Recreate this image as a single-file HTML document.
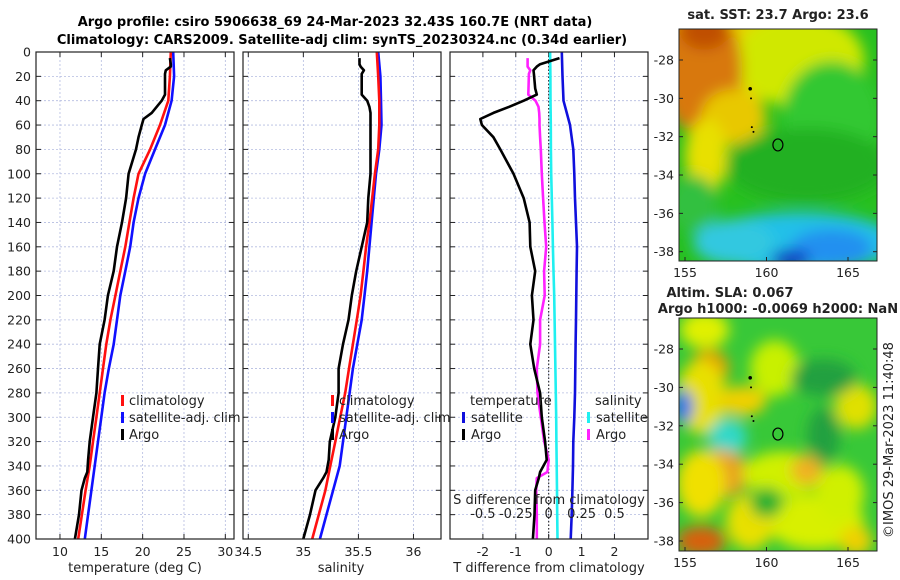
<!DOCTYPE html>
<html><head><meta charset="utf-8"><style>
html,body{margin:0;padding:0;background:#fff;}
svg{display:block;font-family:"DejaVu Sans","Liberation Sans",sans-serif;}
</style></head><body>
<svg id="fig" width="900" height="580" viewBox="0 0 900 580" xmlns="http://www.w3.org/2000/svg">
<defs>
<filter id="blur1" x="-50%" y="-50%" width="200%" height="200%"><feGaussianBlur stdDeviation="9"/></filter>
<filter id="blur2" x="-50%" y="-50%" width="200%" height="200%"><feGaussianBlur stdDeviation="7"/></filter>
<clipPath id="clipTop"><rect x="679" y="29" width="198" height="232"/></clipPath>
<clipPath id="clipBot"><rect x="679" y="318" width="198" height="233"/></clipPath>
</defs>
<text x="335" y="26" text-anchor="middle" font-size="13" font-weight="bold">Argo profile: csiro 5906638_69 24-Mar-2023 32.43S 160.7E (NRT data)</text>
<text x="342" y="44" text-anchor="middle" font-size="13" font-weight="bold">Climatology: CARS2009. Satellite-adj clim: synTS_20230324.nc (0.34d earlier)</text>
<g id="panels"></g>
<g id="maps"></g>
</svg>
<script>
// ---------- data ----------
const depthTicks = [0,20,40,60,80,100,120,140,160,180,200,220,240,260,280,300,320,340,360,380,400];
const tempTicks = [10,15,20,25,30];
const salTicks = [34.5,35,35.5,36];
const tdiffTicks = [-2,-1,0,1,2];
const sdiffTicks = [-0.5,-0.25,0,0.25,0.5];
const sdiffTickLabels = ["-0.5","-0.25","0","0.25","0.5"];

const climDepth = [0,20,40,60,80,100,120,140,160,180,200,220,240,260,280,300,320,340,360,380,400];
const tempClim = [23.4,23.3,23.1,22.1,20.9,19.5,18.9,18.4,17.9,17.3,16.7,16.1,15.6,15.2,14.8,14.4,14.0,13.6,13.1,12.65,12.2];
const tempSat  = [23.7,23.8,23.5,22.7,21.5,20.3,19.5,18.9,18.5,17.9,17.3,16.9,16.5,15.9,15.4,15.0,14.6,14.2,13.8,13.4,13.0];
const salClim  = [35.667,35.68,35.69,35.69,35.68,35.65,35.625,35.60,35.57,35.545,35.52,35.485,35.45,35.415,35.38,35.335,35.29,35.245,35.20,35.14,35.08];
const salSat   = [35.68,35.70,35.705,35.71,35.69,35.66,35.64,35.62,35.60,35.58,35.555,35.53,35.49,35.45,35.42,35.39,35.36,35.33,35.27,35.21,35.15];
const tdiffSat = [0.4,0.42,0.45,0.65,0.75,0.78,0.8,0.83,0.86,0.85,0.84,0.83,0.82,0.81,0.8,0.78,0.75,0.74,0.72,0.7,0.67];
const sdiffSat = [0.011,0.013,0.014,0.016,0.017,0.019,0.024,0.028,0.032,0.037,0.042,0.045,0.048,0.051,0.054,0.057,0.059,0.061,0.063,0.065,0.067];

const argoDepth = [5,10,12,15,18,30,35,40,45,50,55,60,70,80,100,120,140,160,180,200,220,240,260,280,300,320,335,345,350,360,380,400];
const tempArgo = [23.3,23.4,23.4,22.8,22.7,22.7,22.7,22.3,21.7,21.1,20.1,19.9,19.5,19.2,18.3,18.0,17.5,16.9,16.5,15.8,15.4,14.8,14.6,14.4,14.0,13.6,13.4,13.3,13.0,12.6,12.3,11.8];
const salArgo  = [35.51,35.51,35.52,35.55,35.53,35.53,35.53,35.58,35.60,35.61,35.61,35.61,35.61,35.61,35.61,35.59,35.58,35.53,35.48,35.44,35.41,35.36,35.32,35.32,35.29,35.24,35.23,35.21,35.18,35.11,35.06,35.0];
const tdiffArgo = [0.33,-0.26,-0.36,-0.46,-0.45,-0.41,-0.36,-0.76,-1.2,-1.68,-2.08,-2.03,-1.68,-1.47,-1.07,-0.76,-0.58,-0.56,-0.41,-0.51,-0.46,-0.56,-0.44,-0.26,-0.21,-0.11,-0.06,-0.26,-0.3,-0.41,-0.43,-0.48];
const sdiffArgo = [-0.16,-0.16,-0.16,-0.14,-0.15,-0.153,-0.155,-0.10,-0.077,-0.072,-0.07,-0.07,-0.065,-0.06,-0.052,-0.042,-0.032,-0.019,-0.035,-0.03,-0.065,-0.065,-0.09,-0.085,-0.06,-0.034,0,-0.01,-0.09,-0.095,-0.09,-0.09];

const mapXTicks = [155,160,165];
const mapYTicks = [-28,-30,-32,-34,-36,-38];
const argoLon = 160.7, argoLat = -32.43;
const trackLon = [159.0,159.05,159.1,159.2];
const trackLat = [-29.5,-30.0,-31.5,-31.75];

// ---------- helpers ----------
const NS = "http://www.w3.org/2000/svg";
function mk(tag, attrs, parent){const e=document.createElementNS(NS,tag);for(const k in attrs)e.setAttribute(k,attrs[k]);parent.appendChild(e);return e;}
const Y0=52, Y1=539;
function yD(d){return Y0+(Y1-Y0)*d/400;}
const panelsG=document.getElementById('panels');

function drawPanel(name,x0,x1,dmin,dmax,ticks,tickLabels,gridAlso){
  const g=mk('g',{},panelsG);
  
  
  const sx=v=>x0+(x1-x0)*(v-dmin)/(dmax-dmin);
  // grid
  depthTicks.forEach(d=>{if(d>0&&d<400){const l=mk('line',{x1:x0,x2:x1,y1:yD(d),y2:yD(d),stroke:'#b4bce0','stroke-width':0.8,'stroke-dasharray':'2,2'},g);
    }});
  ticks.forEach(t=>{const X=sx(t);if(X>x0+1&&X<x1-1){const l=mk('line',{x1:X,x2:X,y1:Y0,y2:Y1,stroke:'#b4bce0','stroke-width':0.8,'stroke-dasharray':'2,2'},g);
    }});
  // ticks
  depthTicks.forEach(d=>{mk('line',{x1:x0,x2:x0+5,y1:yD(d),y2:yD(d),stroke:'#222','stroke-width':1},g);mk('line',{x1:x1-5,x2:x1,y1:yD(d),y2:yD(d),stroke:'#222','stroke-width':1},g);});
  ticks.forEach((t,i)=>{const X=sx(t);mk('line',{x1:X,x2:X,y1:Y1,y2:Y1-5,stroke:'#222'},g);mk('line',{x1:X,x2:X,y1:Y0,y2:Y0+5,stroke:'#222'},g);
    const tx=mk('text',{x:X,y:556,'text-anchor':'middle','font-size':12.5,fill:'#222'},g);tx.textContent=tickLabels[i];
    });
  return {g,sx};
}
function line(g,xs,ds,sx,color,name,w){
  const pts=xs.map((v,i)=>sx(v).toFixed(1)+','+yD(ds[i]).toFixed(1)).join(' ');
  const p=mk('polyline',{points:pts,fill:'none',stroke:color,'stroke-width':w||2.6,'stroke-linejoin':'round'},g);
  
  
}
function frame(g,x0,x1){const r=mk('rect',{x:x0,y:Y0,width:x1-x0,height:Y1-Y0,fill:'none',stroke:'#222','stroke-width':1.2},g);
  }
function txt(g,x,y,s,name,opts){const t=mk('text',Object.assign({x:x,y:y,'font-size':13,fill:'#222'},opts||{}),g);t.textContent=s;
  return t;}
function mark(g,x,y,color,name){const r=mk('rect',{x:x,y:y-10,width:3,height:11,fill:color},g);
  }

// Panel 1: temperature
const p1=drawPanel('temperature-panel',36,234,7.1,31.05,tempTicks,tempTicks.map(String));
depthTicks.forEach(d=>{const t=txt(p1.g,31,yD(d)+4.5,String(d),'y-tick-label',{'text-anchor':'end','font-size':12.5});});
line(p1.g,tempSat,climDepth,p1.sx,'#1010ff','temp-satellite-line');
line(p1.g,tempClim,climDepth,p1.sx,'#ff1010','temp-climatology-line');
line(p1.g,tempArgo,argoDepth,p1.sx,'#000','temp-argo-line');
frame(p1.g,36,234);
txt(p1.g,135,572,'temperature (deg C)','x-axis-title',{'text-anchor':'middle'});
mark(p1.g,121,405,'#ff1010','legend-marker-climatology');txt(p1.g,129,405,'climatology','legend-entry-climatology');
mark(p1.g,121,422,'#1010ff','legend-marker-satellite');txt(p1.g,129,422,'satellite-adj. clim','legend-entry-satellite');
mark(p1.g,121,439,'#000','legend-marker-argo');txt(p1.g,129,439,'Argo','legend-entry-argo');

// Panel 2: salinity
const p2=drawPanel('salinity-panel',243,441,34.452,36.25,salTicks,salTicks.map(String));
line(p2.g,salSat,climDepth,p2.sx,'#1010ff','sal-satellite-line');
line(p2.g,salClim,climDepth,p2.sx,'#ff1010','sal-climatology-line');
line(p2.g,salArgo,argoDepth,p2.sx,'#000','sal-argo-line');
frame(p2.g,243,441);
txt(p2.g,341,572,'salinity','x-axis-title',{'text-anchor':'middle'});
mark(p2.g,331,405,'#ff1010','legend-marker-climatology');txt(p2.g,339,405,'climatology','legend-entry-climatology');
mark(p2.g,331,422,'#1010ff','legend-marker-satellite');txt(p2.g,339,422,'satellite-adj. clim','legend-entry-satellite');
mark(p2.g,331,439,'#000','legend-marker-argo');txt(p2.g,339,439,'Argo','legend-entry-argo');

// Panel 3: differences
const p3=drawPanel('difference-panel',450,648,-3.0,3.02,tdiffTicks,tdiffTicks.map(String));
const ssx=v=>p3.sx(v*4);
const zl=mk('line',{x1:p3.sx(0),x2:p3.sx(0),y1:Y0,y2:Y1,stroke:'#333','stroke-width':1.2,'stroke-dasharray':'1.5,2'},p3.g);

line(p3.g,tdiffSat,climDepth,p3.sx,'#1010dd','tdiff-satellite-line');
line(p3.g,sdiffSat,climDepth,ssx,'#20f0f0','sdiff-satellite-line');
line(p3.g,sdiffArgo,argoDepth,ssx,'#ff20ff','sdiff-argo-line');
line(p3.g,tdiffArgo,argoDepth,p3.sx,'#000','tdiff-argo-line');
frame(p3.g,450,648);
txt(p3.g,549,572,'T difference from climatology','x-axis-title',{'text-anchor':'middle'});
txt(p3.g,549,504,'S difference from climatology','s-axis-title',{'text-anchor':'middle'});
sdiffTicks.forEach((t,i)=>{txt(p3.g,ssx(t),518,sdiffTickLabels[i],'s-tick-label',{'text-anchor':'middle'});});
txt(p3.g,470,405,'temperature','legend-title-temperature');
mark(p3.g,462,422,'#1010dd','legend-marker-t-satellite');txt(p3.g,471,422,'satellite','legend-entry-t-satellite');
mark(p3.g,462,439,'#000','legend-marker-t-argo');txt(p3.g,471,439,'Argo','legend-entry-t-argo');
txt(p3.g,595,405,'salinity','legend-title-salinity');
mark(p3.g,587,422,'#20f0f0','legend-marker-s-satellite');txt(p3.g,596,422,'satellite','legend-entry-s-satellite');
mark(p3.g,587,439,'#ff20ff','legend-marker-s-argo');txt(p3.g,596,439,'Argo','legend-entry-s-argo');

// ---------- maps ----------
const mapsG=document.getElementById('maps');
const MX0=679,MX1=877;
const mx=lon=>685+(lon-155)*16.3;
function drawMap(name,top,bot,y28,y38,clip,base,blobs,filt){
  const g=mk('g',{},mapsG);
  
  
  const my=lat=>y28+(lat+28)*(y38-y28)/(-10);
  const cg=mk('g',{'clip-path':'url(#'+clip+')'},g);
  mk('rect',{x:MX0,y:top,width:MX1-MX0,height:bot-top,fill:base},cg);
  const bg=mk('g',{filter:'url(#'+filt+')'},cg);
  blobs.forEach(b=>{mk('ellipse',{cx:mx(b[0]),cy:my(b[1]),rx:b[2]*16.3,ry:b[3]*18.7,fill:b[4]},bg);});
  // track & circle
  trackLon.forEach((lo,i)=>{const c=mk('circle',{cx:mx(lo),cy:my(trackLat[i]),r:i==0?1.8:1,fill:'#000'},g);
    });
  const ci=mk('ellipse',{cx:mx(argoLon),cy:my(argoLat),rx:5,ry:6,fill:'none',stroke:'#000','stroke-width':1.2},g);
  
  const fr=mk('rect',{x:MX0,y:top,width:MX1-MX0,height:bot-top,fill:'none',stroke:'#222','stroke-width':1},g);
  
  mapXTicks.forEach(t=>{const X=mx(t);mk('line',{x1:X,x2:X,y1:bot,y2:bot-4,stroke:'#222'},g);
    txt(g,X,bot+16,String(t),'map-x-tick-label',{'text-anchor':'middle','font-size':12.5});});
  mapYTicks.forEach(t=>{const Y=my(t);mk('line',{x1:MX0,x2:MX0+4,y1:Y,y2:Y,stroke:'#222'},g);mk('line',{x1:MX1-4,x2:MX1,y1:Y,y2:Y,stroke:'#222'},g);
    txt(g,MX0-5,Y+4.5,String(t),'map-y-tick-label',{'text-anchor':'end','font-size':12.5});});
  return g;
}
const sstBlobs=[
 [157.5,-27.5,5,3,'#e8d000'],[162,-28,4,2.5,'#d0e800'],[156,-28.5,2.5,3.5,'#d87810'],[156.2,-26.5,1.5,1,'#c05000'],
 [158,-31,2,1.5,'#e8c800'],[156.3,-33,1.3,2,'#e8e000'],
 [164,-31,3,3,'#30c830'],[162.5,-33.5,5,2,'#20b020'],[155.5,-35.5,1.5,1.5,'#30c040'],
 [162,-37.5,6,1.6,'#20c0e8'],[158,-37.5,2.5,1.2,'#30c8e0'],[164,-37.8,2.5,1,'#2090f0'],[161.5,-38.4,1.2,0.5,'#1030c0']];
const mTop=drawMap('sst-map',29,261,60,251.7,'clipTop','#28c020',sstBlobs,'blur2');
txt(mTop,778,19,'sat. SST: 23.7 Argo: 23.6','sst-map-title',{'text-anchor':'middle','font-weight':'bold'});
const slaBlobs=[
 [156.5,-29,1.2,1,'#e8a000'],[156,-30.5,1.5,2,'#e8e000'],[154.9,-31,0.6,0.9,'#2070f0'],[157.6,-32.6,1.2,1,'#30d8c8'],
 [157,-34.5,2,1.3,'#e8a020'],[156,-35,1.5,1.8,'#f0e000'],[156,-38,1.5,0.8,'#d86010'],[158.5,-30.7,1.5,0.8,'#f0d000'],
 [160.5,-29,1.5,1.5,'#c8f000'],[161,-34.5,2.5,1.2,'#d0f000'],[162.5,-34.3,1,0.8,'#f0b020'],[165.5,-31,1.3,1.2,'#e0e000'],
 [163,-37,3,1.5,'#d8f000'],[159,-37,1.5,1.5,'#e8e000'],[164.5,-35.5,1.5,1.5,'#d0f000'],[165.5,-38,1,0.8,'#f0d000'],
 [156.2,-27,1.5,1,'#e0f000'],[163.5,-29.5,2,1,'#20a040'],[160,-36,1,0.8,'#20b030'],[163.5,-32.5,1,1.5,'#20a040']];
const mBot=drawMap('sla-map',318,551,349,541,'clipBot','#38c838',slaBlobs,'blur2');
txt(mBot,730,297,'Altim. SLA: 0.067','sla-map-title',{'text-anchor':'middle','font-weight':'bold'});
txt(mBot,778,313,'Argo h1000: -0.0069 h2000: NaN','sla-map-subtitle',{'text-anchor':'middle','font-weight':'bold'});
txt(mBot,0,0,'©IMOS 29-Mar-2023 11:40:48','timestamp-credit',{'text-anchor':'middle','transform':'translate(893,440) rotate(-90)'});
</script>
</body></html>
